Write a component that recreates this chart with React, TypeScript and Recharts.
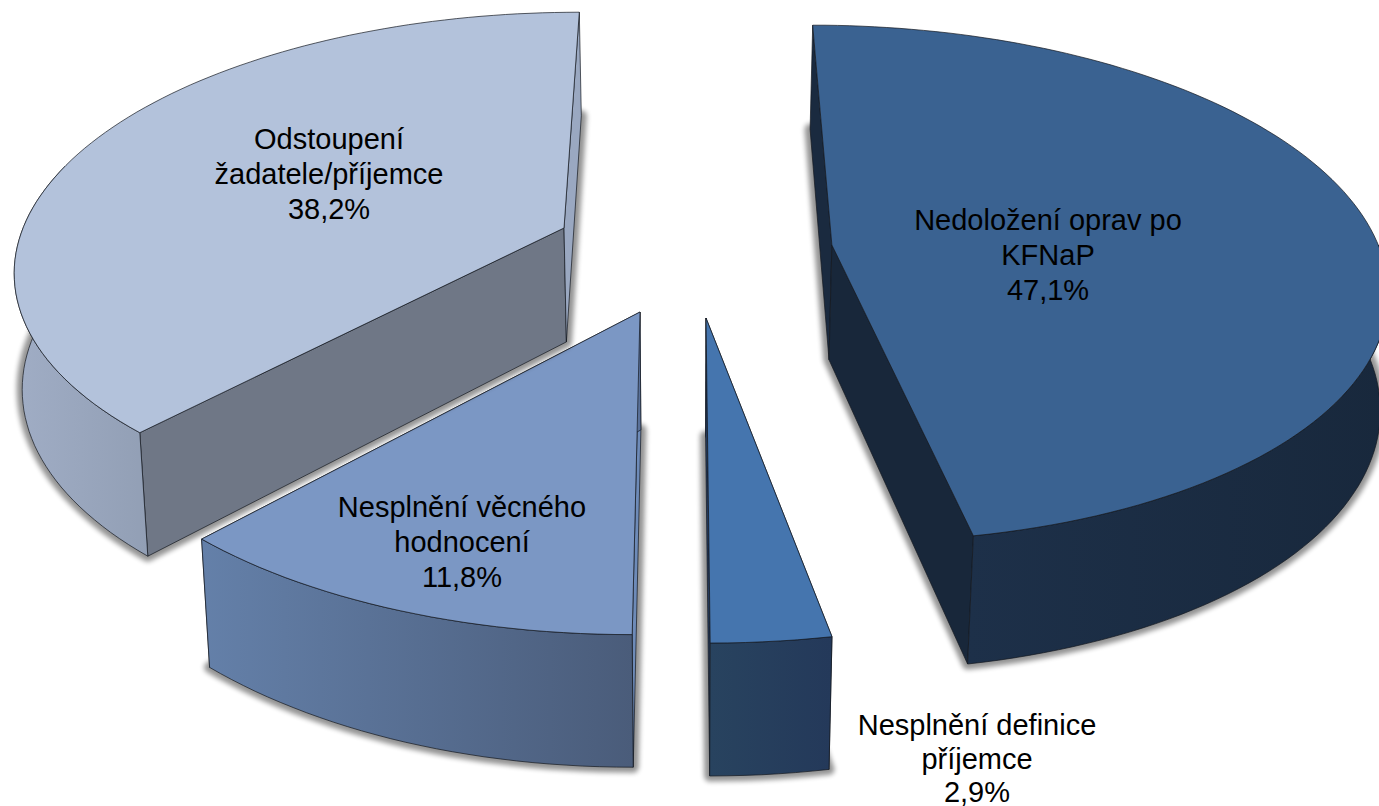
import React from 'react';
import { PieChart, Pie } from 'recharts';

const categories = ['Nedoložení oprav po KFNaP', 'Nesplnění definice příjemce', 'Nesplnění věcného hodnocení', 'Odstoupení žadatele/příjemce'];
const values = [47.1, 2.9, 11.8, 38.2];
const labelLines = [
  ['Nedoložení oprav po', 'KFNaP'],
  ['Nesplnění definice', 'příjemce'],
  ['Nesplnění věcného', 'hodnocení'],
  ['Odstoupení', 'žadatele/příjemce'],
];

// layout & style, indexed like the categories
const explodeX = [0.2726, 0.0404, -0.0757, -0.2200];
const explodeY = [-0.0197, 0.2574, 0.2355, -0.0878];
const topColors = ['#3A6291', '#4575AE', '#7B97C4', '#B3C2DB'];
const startCutColors = ['#1A2A3F', '#24395A', '#6E8BB8', '#6F7786'];
const endCutColors = ['#18273A', '#24395A', '#5A7199', '#9AA8C1'];
const wallFrom = ['#1D3049', '#28435F', '#6480A9', '#A0ADC5'];
const wallTo = ['#18283C', '#24395A', '#4A5C7A', '#929FB5'];
const labelCenters = [
  [1048, 230],
  [977, 735],
  [462, 517],
  [329, 149],
];
const labelPitch = [35, 33.5, 35, 35];

const TILT = 254 / 548;
const PERSPECTIVE = 0.149;
const DEPTH = 115;
const DEPTH_POWER = 0.7;
const RAD = Math.PI / 180;

type P = [number, number];

function makeProjector(cx: number, cy: number, r: number, i: number) {
  const ox = explodeX[i];
  const oy = explodeY[i];
  const world = (rho: number, theta: number) => {
    const X = ox + rho * Math.sin(theta * RAD);
    const Y = oy - rho * Math.cos(theta * RAD);
    return [X, Y, 1 - PERSPECTIVE * Y];
  };
  const top = (rho: number, theta: number): P => {
    const [X, Y, w] = world(rho, theta);
    return [cx + (r * X) / w, cy + (r * TILT * Y) / w];
  };
  const bottom = (rho: number, theta: number): P => {
    const [, , w] = world(rho, theta);
    const [sx, sy] = top(rho, theta);
    const dx = sx - cx;
    const shift = Math.min(Math.abs(dx) * 0.02, 8) * Math.sign(dx);
    return [sx - shift, sy + DEPTH / Math.pow(w, DEPTH_POWER)];
  };
  return { top, bottom };
}

const path = (pts: P[]) => 'M' + pts.map((p) => `${p[0].toFixed(1)},${p[1].toFixed(1)}`).join('L') + 'Z';

function arcAngles(a: number, b: number) {
  const out: number[] = [];
  const n = Math.max(2, Math.ceil((b - a) / 1.5));
  for (let k = 0; k <= n; k++) out.push(a + ((b - a) * k) / n);
  return out;
}

const indexOf = (props: any) => {
  const byName = categories.indexOf(props.name ?? props.payload?.name);
  return byName >= 0 ? byName : props.index ?? 0;
};

function Wedge3D(props: any) {
  const { cx, cy, outerRadius, startAngle, endAngle } = props;
  const i = indexOf(props);
  const a = 90 - startAngle;
  const b = 90 - endAngle;
  const { top, bottom } = makeProjector(cx, cy, outerRadius, i);
  const angles = arcAngles(a, b);
  const topPts: P[] = [top(0, 0), ...angles.map((t) => top(1, t))];
  const botPts: P[] = [bottom(0, 0), ...angles.map((t) => bottom(1, t))];
  const cutStart: P[] = [top(0, 0), top(1, a), bottom(1, a), bottom(0, 0)];
  const cutEnd: P[] = [top(0, 0), top(1, b), bottom(1, b), bottom(0, 0)];
  const wa = Math.max(a, 90);
  const wb = Math.min(b, 285);
  const wallAngles = arcAngles(wa, wb);
  const wall: P[] = [...wallAngles.map((t) => top(1, t)), ...wallAngles.slice().reverse().map((t) => bottom(1, t))];
  const gid = `wall-${i}`;
  const line = { stroke: '#14181f', strokeWidth: 0.7, strokeLinejoin: 'round' as const };
  return (
    <g>
      <defs>
        <linearGradient id={gid} x1="0" y1="0" x2="1" y2="0">
          <stop offset="0" stopColor={wallFrom[i]} />
          <stop offset="1" stopColor={wallTo[i]} />
        </linearGradient>
        <filter id={`blur-${i}`} x="-10%" y="-10%" width="120%" height="120%">
          <feGaussianBlur stdDeviation="2.5" />
        </filter>
      </defs>
      <path d={path(botPts)} fill="#000" stroke="#000" strokeWidth={11} strokeLinejoin="round" opacity={0.42} filter={`url(#blur-${i})`} />
      <path d={path(cutStart)} fill={startCutColors[i]} {...line} />
      <path d={path(cutEnd)} fill={endCutColors[i]} {...line} />
      <path d={path(wall)} fill={`url(#${gid})`} {...line} />
      <path d={path(topPts)} fill={topColors[i]} {...line} />
    </g>
  );
}

function Label3D(props: any) {
  const i = indexOf(props);
  const [x, y] = labelCenters[i];
  const pct = `${values[i].toFixed(1).replace('.', ',')}%`;
  const lines = [...labelLines[i], pct];
  return (
    <text x={x} y={y} textAnchor="middle" fontFamily='"Liberation Sans", Arial, sans-serif' fontSize={29} fill="#000">
      {lines.map((l, k) => (
        <tspan key={k} x={x} y={y + k * labelPitch[i]}>
          {l}
        </tspan>
      ))}
    </text>
  );
}

const data = categories.map((name, k) => ({ name, value: values[k] }));

export default function App() {
  return (
    <div style={{ position: 'fixed', left: 0, top: 0, width: 1379, height: 806, overflow: 'hidden', background: '#fff' }}>
      <PieChart width={1379} height={806} margin={{ top: 0, right: 0, bottom: 0, left: 0 }} style={{ overflow: 'hidden' }}>
        <Pie
          data={data}
          dataKey="value"
          nameKey="name"
          cx={683}
          cy={250}
          innerRadius={0}
          outerRadius={548}
          startAngle={90}
          endAngle={-270}
          paddingAngle={0}
          stroke="none"
          shape={Wedge3D}
          label={Label3D}
          labelLine={false}
          isAnimationActive={false}
        />
      </PieChart>
    </div>
  );
}
